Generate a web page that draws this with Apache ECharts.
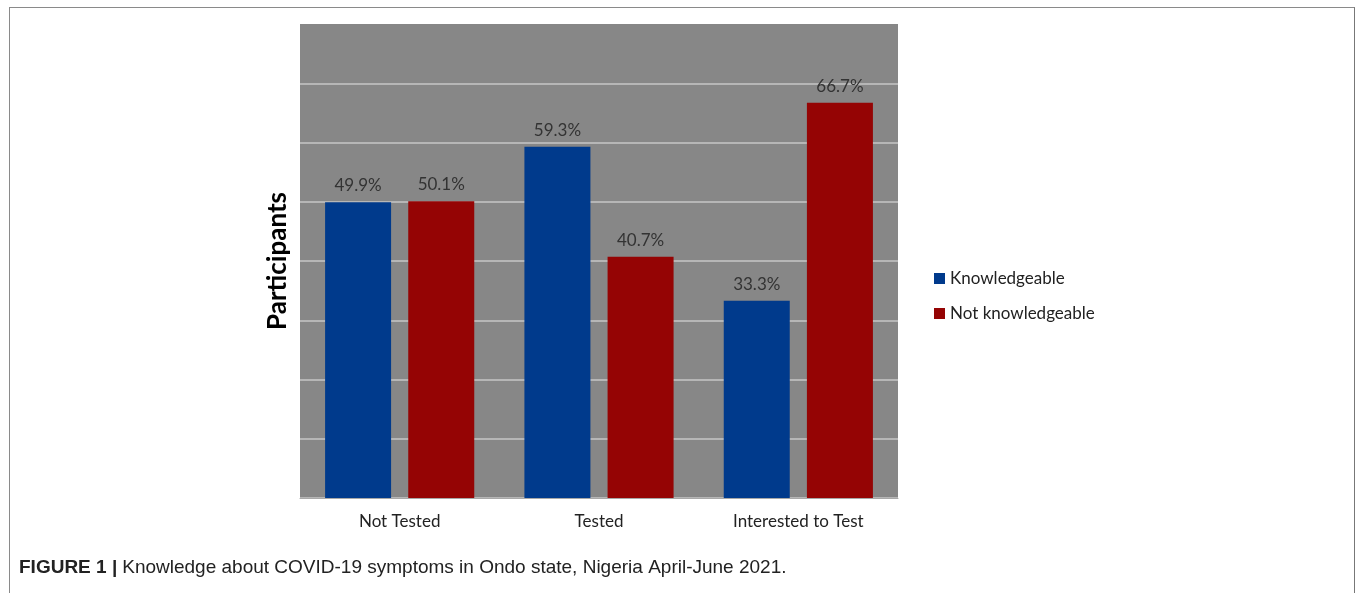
<!DOCTYPE html>
<html>
<head>
<meta charset="utf-8">
<script src="https://cdn.jsdelivr.net/npm/echarts@6/dist/echarts.min.js"></script>
<style>
html,body{margin:0;padding:0;background:#fff;}
#frame{position:absolute;left:9px;top:7px;width:1344px;height:600px;border-top:1.5px solid #8a8a8a;border-left:1.5px solid #8a8a8a;border-right:1.5px solid #777;}
#c{position:absolute;left:0;top:0;width:1355px;height:593px;}
</style>
</head>
<body>
<div id="frame"></div>
<div id="c"></div>
<script>
const categories = ['Not Tested', 'Tested', 'Interested to Test'];
const knowledgeable = [49.9, 59.3, 33.3];
const notKnowledgeable = [50.1, 40.7, 66.7];
const seriesNames = ['Knowledgeable', 'Not knowledgeable'];
const captionBold = 'FIGURE 1 |';
const captionText = 'Knowledge about COVID-19 symptoms in Ondo state, Nigeria April-June 2021.';

const chart = echarts.init(document.getElementById('c'));
const labelStyle = {
  show: true, position: 'top', distance: 8,
  formatter: p => p.value.toFixed(1) + '%',
  color: '#333', fontSize: 17, fontFamily: 'Lato'
};
chart.setOption({
  animation: false,
  title: {
    left: 14, top: 553,
    text: '{b|' + captionBold + '} {n|' + captionText + '}',
    textStyle: {
      fontWeight: 'normal',
      rich: {
        b: {fontFamily: 'Liberation Sans', fontWeight: 'bold', fontSize: 19, color: '#222'},
        n: {fontFamily: 'Liberation Sans', fontWeight: 'normal', fontSize: 19, color: '#222'}
      }
    }
  },
  grid: {left: 300, right: 457, top: 24, bottom: 95, backgroundColor: '#878787', show: true, borderWidth: 0},
  legend: {
    orient: 'vertical', left: 929, top: 265, itemWidth: 11, itemHeight: 11, itemGap: 18,
    icon: 'rect',
    textStyle: {fontFamily: 'Lato', fontSize: 17, color: '#222'},
    data: seriesNames
  },
  xAxis: {
    type: 'category', data: categories,
    axisLine: {show: true, lineStyle: {color: '#a8a8a8', width: 1}},
    axisTick: {show: false},
    axisLabel: {color: '#222', fontSize: 17, fontFamily: 'Lato', margin: 15}
  },
  yAxis: {
    type: 'value', min: 0, max: 80, interval: 10,
    name: 'Participants', nameLocation: 'middle', nameGap: 9,
    nameTextStyle: {fontFamily: 'Lato', fontWeight: 'bold', fontSize: 26, color: '#000'},
    axisLabel: {show: false}, axisLine: {show: false}, axisTick: {show: false},
    splitLine: {showMaxLine: false, lineStyle: {color: '#c6c6c6', width: 1.5}}
  },
  series: [
    {name: seriesNames[0], type: 'bar', data: knowledgeable, barWidth: 66, barGap: '26%',
     itemStyle: {color: '#003a8c'}, label: labelStyle},
    {name: seriesNames[1], type: 'bar', data: notKnowledgeable, barWidth: 66,
     itemStyle: {color: '#950404'}, label: labelStyle}
  ]
});
</script>
</body>
</html>
